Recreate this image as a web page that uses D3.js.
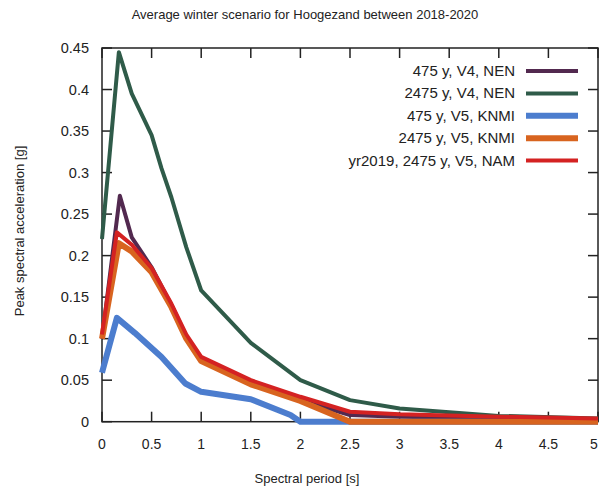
<!DOCTYPE html>
<html><head><meta charset="utf-8">
<script src="https://cdn.jsdelivr.net/npm/d3@7"></script>
<style>body{margin:0;background:#fff}svg{display:block}text{font-family:"Liberation Sans",Arial,sans-serif;fill:#222}</style>
</head><body><svg id="c" width="600" height="488"></svg>
<script>
const xTicks = [0,0.5,1,1.5,2,2.5,3,3.5,4,4.5,5];
const yTicks = [0,0.05,0.1,0.15,0.2,0.25,0.3,0.35,0.4,0.45];
const seriesNames = ["475 y, V4, NEN","2475 y, V4, NEN","475 y, V5, KNMI","2475 y, V5, KNMI","yr2019, 2475 y, V5, NAM"];
const seriesColors = ["#52294f","#2f5b49","#4c7dce","#d8641f","#d42222"];
const seriesWidths = [4,4,6,6,4];
const nen475 = [[0,0.1],[0.18,0.272],[0.3,0.222],[0.5,0.186],[0.7,0.14],[0.85,0.102],[1.0,0.076],[1.5,0.046],[2.0,0.026],[2.5,0.008],[3.0,0.006],[4.0,0.004],[5.0,0.003]];
const nen2475 = [[0,0.22],[0.17,0.445],[0.3,0.395],[0.5,0.345],[0.6,0.305],[0.7,0.27],[0.85,0.21],[1.0,0.158],[1.5,0.095],[2.0,0.05],[2.5,0.026],[3.0,0.016],[4.0,0.007],[5.0,0.004]];
const knmi475 = [[0,0.059],[0.15,0.125],[0.33,0.107],[0.6,0.078],[0.84,0.046],[1.0,0.036],[1.5,0.027],[1.9,0.008],[2.0,0],[2.5,0],[3.0,0],[4.0,0],[5.0,0]];
const knmi2475 = [[0,0.1],[0.17,0.215],[0.3,0.205],[0.5,0.18],[0.7,0.138],[0.85,0.1],[1.0,0.073],[1.5,0.045],[2.0,0.025],[2.5,0],[3.0,0],[4.0,0],[5.0,0]];
const nam2475 = [[0,0.105],[0.15,0.228],[0.3,0.213],[0.5,0.185],[0.7,0.142],[0.85,0.105],[1.0,0.078],[1.5,0.05],[2.0,0.03],[2.5,0.012],[3.0,0.009],[4.0,0.006],[5.0,0.004]];
const seriesData = [nen475,nen2475,knmi475,knmi2475,nam2475];

const svg = d3.select("#c");
const L=102, R=598, T=48, B=421.7;
const x = d3.scaleLinear().domain([0,5]).range([L,R]);
const y = d3.scaleLinear().domain([0,0.45]).range([B,T]);

svg.append("text").attr("x",305).attr("y",19).attr("text-anchor","middle").attr("font-size",13).text("Average winter scenario for Hoogezand between 2018-2020");

const g = svg.append("g");
g.append("rect").attr("x",L).attr("y",T).attr("width",R-L).attr("height",B-T).attr("fill","none").attr("stroke","#222").attr("stroke-width",1.5);
const tl=10;
xTicks.forEach((t,i)=>{
  g.append("line").attr("x1",x(t)).attr("x2",x(t)).attr("y1",B).attr("y2",B-tl).attr("stroke","#222").attr("stroke-width",1.5);
  g.append("line").attr("x1",x(t)).attr("x2",x(t)).attr("y1",T).attr("y2",T+tl).attr("stroke","#222").attr("stroke-width",1.5);
  const lx = i===xTicks.length-1 ? Math.min(x(t), 594) : x(t);
  svg.append("text").attr("x",lx).attr("y",449).attr("text-anchor","middle").attr("font-size",14).text(d3.format("")(t));
});
yTicks.forEach(t=>{
  g.append("line").attr("x1",L).attr("x2",L+tl).attr("y1",y(t)).attr("y2",y(t)).attr("stroke","#222").attr("stroke-width",1.5);
  g.append("line").attr("x1",R).attr("x2",R-tl).attr("y1",y(t)).attr("y2",y(t)).attr("stroke","#222").attr("stroke-width",1.5);
  svg.append("text").attr("x",89).attr("y",y(t)+5).attr("text-anchor","end").attr("font-size",14.5).text(d3.format("")(t));
});
svg.append("text").attr("x",307).attr("y",483).attr("text-anchor","middle").attr("font-size",13).text("Spectral period [s]");
svg.append("text").attr("transform","translate(24,231) rotate(-90)").attr("text-anchor","middle").attr("font-size",13).text("Peak spectral acceleration [g]");

const line = d3.line().x(d=>x(d[0])).y(d=>y(d[1]));
seriesData.forEach((s,i)=>{
  svg.append("path").attr("d",line(s)).attr("fill","none").attr("stroke",seriesColors[i]).attr("stroke-width",seriesWidths[i]).attr("stroke-linejoin","round");
});
seriesNames.forEach((n,i)=>{
  const yy = 71 + i*22.4;
  svg.append("text").attr("x",515).attr("y",yy+5).attr("text-anchor","end").attr("font-size",15).text(n);
  svg.append("line").attr("x1",526).attr("x2",578).attr("y1",yy).attr("y2",yy).attr("stroke",seriesColors[i]).attr("stroke-width",seriesWidths[i]);
});
</script></body></html>
